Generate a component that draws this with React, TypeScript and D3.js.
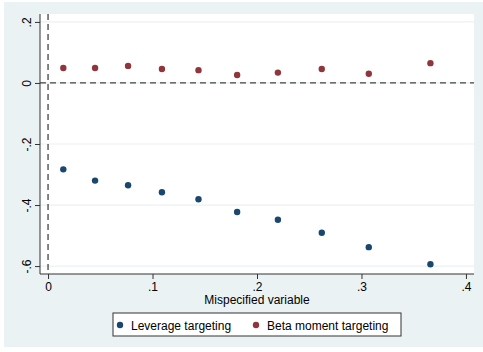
import { useEffect, useRef } from "react";
import * as d3 from "d3";

const xValues = [0.0146, 0.045, 0.0766, 0.109, 0.144, 0.181, 0.22, 0.262, 0.307, 0.366];
const leverageValues = [-0.283, -0.32, -0.335, -0.358, -0.381, -0.423, -0.448, -0.491, -0.538, -0.594];
const betaValues = [0.049, 0.049, 0.056, 0.046, 0.042, 0.026, 0.034, 0.046, 0.03, 0.065];
const xTicks = [0, 0.1, 0.2, 0.3, 0.4];
const yTicks = [0.2, 0, -0.2, -0.4, -0.6];
const seriesNames = ["Leverage targeting", "Beta moment targeting"];

const BLUE = "#1a476f";
const RED = "#90353b";
const BG = "#eaf2f3";
const FONT = "'Liberation Sans', Arial, sans-serif";

const fmt = (v: number) => {
  if (v === 0) return "0";
  const s = String(v);
  return s.replace(/^(-?)0\./, "$1.");
};

const ScatterChart = () => {
  const svgRef = useRef<SVGSVGElement>(null);

  useEffect(() => {
    if (!svgRef.current) return;
    const width = 483;
    const height = 352;
    const plot = { left: 40, right: 474, top: 14, bottom: 274 };

    const svg = d3.select(svgRef.current);
    svg.selectAll("*").remove();

    // Graph region background
    svg.append("rect").attr("x", 4).attr("y", 2).attr("width", width - 4).attr("height", 345).attr("fill", BG);

    // Plot region
    svg
      .append("rect")
      .attr("x", plot.left)
      .attr("y", plot.top)
      .attr("width", plot.right - plot.left)
      .attr("height", plot.bottom - plot.top)
      .attr("fill", "#fff");

    const x = d3.scaleLinear().domain([-0.0077, 0.4077]).range([plot.left, plot.right]);
    const y = d3.scaleLinear().domain([-0.626, 0.226]).range([plot.bottom, plot.top]);

    // Gridlines
    svg
      .append("g")
      .selectAll("line")
      .data(yTicks)
      .join("line")
      .attr("x1", plot.left)
      .attr("x2", plot.right)
      .attr("y1", (d) => y(d))
      .attr("y2", (d) => y(d))
      .attr("stroke", BG)
      .attr("stroke-width", 1.2);

    // Reference lines
    svg
      .append("line")
      .attr("x1", plot.left)
      .attr("x2", plot.right)
      .attr("y1", y(0))
      .attr("y2", y(0))
      .attr("stroke", "#444")
      .attr("stroke-width", 1.3)
      .attr("stroke-dasharray", "6,4");
    svg
      .append("line")
      .attr("x1", x(0))
      .attr("x2", x(0))
      .attr("y1", plot.top)
      .attr("y2", plot.bottom)
      .attr("stroke", "#444")
      .attr("stroke-width", 1.3)
      .attr("stroke-dasharray", "6,4");

    // Y axis
    const yAxis = svg
      .append("g")
      .attr("transform", `translate(${plot.left},0)`)
      .call(d3.axisLeft(y).tickValues(yTicks).tickSize(5).tickFormat((d) => fmt(d as number)));
    yAxis.select(".domain").attr("stroke", "#333").attr("d", `M0,${plot.top}V${plot.bottom}`);
    yAxis.selectAll(".tick line").attr("stroke", "#333");
    yAxis
      .selectAll<SVGTextElement, number>(".tick text")
      .attr("x", null)
      .attr("dy", null)
      .attr("transform", "translate(-9,0) rotate(-90)")
      .attr("text-anchor", "middle")
      .attr("fill", "#000")
      .attr("font-size", 12)
      .attr("font-family", FONT);

    // X axis
    const xAxis = svg
      .append("g")
      .attr("transform", `translate(0,${plot.bottom})`)
      .call(d3.axisBottom(x).tickValues(xTicks).tickSize(5).tickFormat((d) => fmt(d as number)));
    xAxis.select(".domain").attr("stroke", "#333").attr("d", `M${plot.left},0H${plot.right}`);
    xAxis.selectAll(".tick line").attr("stroke", "#333");
    xAxis
      .selectAll(".tick text")
      .attr("y", 17)
      .attr("dy", null)
      .attr("fill", "#000")
      .attr("font-size", 12)
      .attr("font-family", FONT);

    svg
      .append("text")
      .attr("x", (plot.left + plot.right) / 2)
      .attr("y", 304)
      .attr("text-anchor", "middle")
      .attr("font-size", 12)
      .attr("font-family", FONT)
      .text("Mispecified variable");

    // Points
    const series = [
      { name: seriesNames[0], values: leverageValues, color: BLUE },
      { name: seriesNames[1], values: betaValues, color: RED },
    ];
    series.forEach((s) => {
      svg
        .append("g")
        .selectAll("circle")
        .data(s.values)
        .join("circle")
        .attr("cx", (_, i) => x(xValues[i]))
        .attr("cy", (d) => y(d))
        .attr("r", 3.2)
        .attr("fill", s.color);
    });

    // Legend
    const legend = svg.append("g").attr("transform", "translate(113,313)");
    legend
      .append("rect")
      .attr("width", 288)
      .attr("height", 23)
      .attr("fill", "#fff")
      .attr("stroke", "#333")
      .attr("stroke-width", 1);
    const offsets = [7, 143];
    series.forEach((s, i) => {
      legend.append("circle").attr("cx", offsets[i]).attr("cy", 12).attr("r", 3.2).attr("fill", s.color);
      legend
        .append("text")
        .attr("x", offsets[i] + 11)
        .attr("y", 16.5)
        .attr("font-size", 12)
        .attr("font-family", FONT)
        .text(s.name);
    });
  }, []);

  return <svg ref={svgRef} width={483} height={352} style={{ display: "block" }} />;
};

export default function App() {
  return (
    <div style={{ position: "fixed", left: 0, top: 0 }}>
      <ScatterChart />
    </div>
  );
}
